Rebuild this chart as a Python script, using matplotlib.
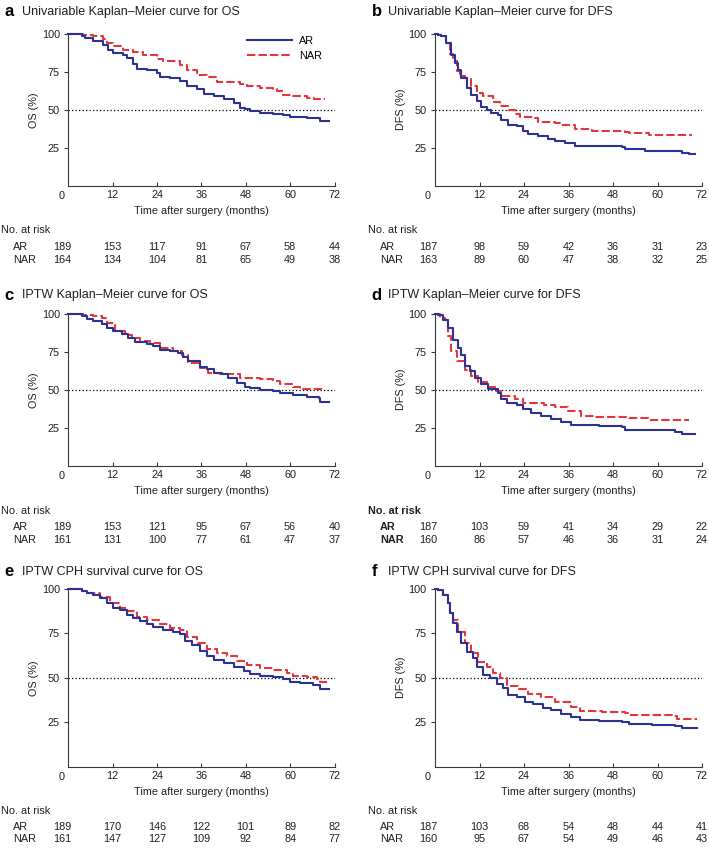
import matplotlib

matplotlib.use("Agg")
import matplotlib.pyplot as plt
from matplotlib import transforms

plt.rcParams["font.family"] = ["Liberation Sans", "DejaVu Sans"]

W, H = 709, 848
BLUE = "#2d3192"
RED = "#e2373f"
TXT = "#231f20"
FS = 7.8

risk_times = [0, 12, 24, 36, 48, 60, 72]

# a: univariable KM, OS
a_ar_t = [0, 3.6, 4.5, 6.8, 9.5, 10.8, 12.2, 14.9, 15.8, 17.6, 18.7, 21.2, 23.9, 24.8, 27.5, 30.2, 32.0,
          34.7, 36.6, 39.3, 42.0, 44.7, 46.5, 47.8, 49.2, 51.9, 55.5, 58.2, 60.0, 64.5, 67.7, 68.1, 70.4]
a_ar_s = [100, 98.5, 97.4, 95.6, 93.0, 89.7, 87.5, 86.4, 84.0, 80.0, 77.0, 76.0, 74.3, 71.5, 71.0, 69.0, 65.6,
          63.4, 60.5, 59.0, 57.2, 54.6, 51.3, 50.2, 49.0, 48.0, 47.4, 46.5, 45.2, 44.7, 44.3, 42.5, 42.5]
a_nar_t = [0, 4.1, 6.8, 9.5, 10.4, 12.2, 14.9, 17.6, 20.3, 23.9, 25.7, 30.2, 32.0, 34.7, 37.5, 40.2, 46.5,
           48.3, 51.9, 55.5, 56.4, 58.2, 60.9, 64.5, 66.5, 69.5]
a_nar_s = [100, 99.5, 98.5, 97.0, 94.0, 92.0, 89.7, 88.2, 86.4, 83.8, 82.0, 79.8, 76.5, 73.2, 71.5, 68.4, 67.0,
           65.6, 64.5, 63.8, 62.3, 60.0, 59.0, 57.9, 56.8, 56.8]
a_risk_ar = [189, 153, 117, 91, 67, 58, 44]
a_risk_nar = [164, 134, 104, 81, 65, 49, 38]

# b: univariable KM, DFS
b_ar_t = [0, 0.8, 1.7, 3.1, 4.4, 5.3, 6.2, 7.1, 8.5, 9.8, 11.2, 12.5, 13.9, 15.2, 17.0, 17.9, 19.7, 22.0,
          23.8, 25.1, 27.8, 30.5, 32.3, 35.0, 37.7, 45.0, 50.4, 51.3, 56.7, 64.8, 66.6, 68.5, 70.2]
b_ar_s = [100, 99.5, 98.5, 94.0, 86.3, 80.8, 76.4, 71.0, 64.3, 60.0, 56.0, 51.5, 50.0, 47.8, 46.7, 43.4, 40.0,
          39.0, 36.1, 33.9, 32.4, 30.6, 29.1, 28.0, 26.4, 25.8, 25.1, 24.2, 23.1, 22.5, 21.4, 21.0, 21.0]
b_nar_t = [0, 0.8, 1.7, 3.1, 4.0, 4.9, 5.8, 6.7, 8.0, 9.8, 11.2, 13.0, 15.7, 17.5, 19.7, 21.5, 22.9, 26.9,
           27.8, 32.3, 34.1, 37.7, 42.3, 51.3, 52.2, 57.6, 69.3]
b_nar_s = [100, 99.5, 98.5, 94.0, 86.8, 82.0, 75.3, 72.0, 71.0, 65.4, 61.0, 58.8, 55.0, 52.2, 50.0, 47.1, 45.0,
           44.5, 41.9, 41.2, 40.1, 37.2, 35.7, 35.0, 34.6, 33.5, 33.5]
b_risk_ar = [187, 98, 59, 42, 36, 31, 23]
b_risk_nar = [163, 89, 60, 47, 38, 32, 25]

# c: IPTW KM, OS
c_ar_t = [0, 3.6, 5.0, 6.8, 9.0, 10.4, 12.2, 14.4, 16.2, 18.1, 21.2, 23.0, 24.8, 27.5, 29.8, 31.1, 32.5,
          35.6, 37.5, 39.3, 41.5, 43.3, 45.6, 47.8, 49.2, 51.9, 55.5, 57.3, 60.9, 64.5, 67.7, 68.1, 70.4]
c_ar_s = [100, 98.5, 97.0, 95.2, 93.4, 90.8, 88.6, 86.8, 84.2, 81.6, 80.3, 78.7, 76.5, 75.9, 74.3, 71.5, 68.9,
          64.9, 63.4, 61.2, 60.1, 57.9, 54.6, 51.8, 50.9, 49.6, 49.1, 48.0, 46.5, 45.2, 44.7, 41.8, 41.8]
c_nar_t = [0, 4.1, 6.8, 9.0, 10.4, 12.6, 15.3, 17.1, 19.4, 22.1, 24.8, 28.4, 30.7, 32.5, 35.6, 37.9, 41.1,
           44.7, 46.5, 51.9, 55.5, 57.3, 60.9, 62.7, 69.5]
c_nar_s = [100, 99.5, 98.5, 97.4, 94.0, 88.6, 86.4, 84.2, 82.5, 80.9, 77.6, 75.9, 73.2, 67.8, 64.5, 61.2, 60.5,
           60.1, 57.9, 56.8, 56.1, 53.9, 51.8, 50.2, 50.2]
c_risk_ar = [189, 153, 121, 95, 67, 56, 40]
c_risk_nar = [161, 131, 100, 77, 61, 47, 37]

# d: IPTW KM, DFS
d_ar_t = [0, 0.8, 2.2, 3.5, 4.9, 6.2, 7.1, 8.0, 9.4, 10.7, 12.5, 14.3, 17.0, 17.9, 19.3, 22.0, 23.8, 26.0,
          28.7, 31.4, 34.1, 36.8, 44.1, 50.4, 51.3, 64.8, 66.6, 70.2]
d_ar_s = [100, 99.5, 96.3, 90.8, 83.1, 77.6, 73.2, 65.6, 62.3, 57.9, 53.5, 50.2, 48.0, 43.6, 41.4, 39.9, 37.0,
          34.8, 32.6, 30.4, 28.9, 26.7, 26.0, 25.4, 23.2, 22.3, 21.0, 21.0]
d_nar_t = [0, 1.3, 2.6, 3.5, 4.4, 5.8, 8.0, 9.8, 11.6, 13.9, 16.1, 17.9, 21.6, 23.8, 29.4, 32.3, 35.9, 39.5,
           43.2, 52.2, 57.6, 68.4]
d_nar_s = [100, 97.4, 96.3, 85.2, 75.3, 68.7, 63.2, 58.8, 55.0, 51.5, 48.9, 45.6, 44.0, 41.2, 40.1, 38.3, 35.7,
           33.0, 31.9, 31.3, 30.0, 30.0]
d_risk_ar = [187, 103, 59, 41, 34, 29, 22]
d_risk_nar = [160, 86, 57, 46, 36, 31, 24]

# e: IPTW CPH, OS
e_ar_t = [0, 3.6, 5.0, 6.8, 8.6, 10.4, 12.2, 14.0, 15.8, 17.6, 19.4, 21.2, 23.0, 25.7, 28.4, 30.2, 31.6,
          33.4, 35.6, 37.5, 39.3, 42.0, 44.7, 47.4, 49.2, 51.9, 55.5, 58.2, 60.0, 62.7, 66.3, 68.1, 70.4]
e_ar_s = [100, 98.8, 97.7, 96.8, 94.9, 92.1, 89.2, 87.9, 85.5, 83.6, 81.7, 80.4, 78.5, 77.0, 75.5, 74.7, 70.9,
          68.5, 65.3, 62.3, 60.0, 58.5, 56.2, 54.0, 52.1, 50.9, 50.2, 49.1, 47.7, 46.8, 45.8, 43.5, 43.5]
e_nar_t = [0, 3.6, 5.0, 8.6, 11.3, 14.0, 15.8, 18.5, 21.2, 24.8, 27.5, 30.2, 32.0, 34.7, 37.5, 40.2, 42.9,
           45.6, 48.3, 51.9, 55.5, 59.1, 60.9, 64.5, 67.2, 68.1, 70.4]
e_nar_s = [100, 98.8, 97.7, 95.5, 92.1, 89.2, 87.4, 84.5, 82.3, 80.4, 77.9, 77.0, 73.2, 69.4, 66.0, 63.8, 62.3,
           59.6, 57.2, 55.3, 54.3, 52.8, 50.9, 50.2, 49.1, 47.5, 47.5]
e_risk_ar = [189, 170, 146, 122, 101, 89, 82]
e_risk_nar = [161, 147, 127, 109, 92, 84, 77]

# f: IPTW CPH, DFS
f_ar_t = [0, 0.8, 2.2, 3.5, 4.0, 4.9, 5.8, 7.1, 8.5, 10.3, 11.2, 13.0, 14.8, 16.6, 18.4, 19.7, 22.0, 24.2,
          26.5, 29.2, 31.4, 34.1, 36.8, 39.1, 44.1, 50.4, 52.2, 58.5, 64.8, 66.6, 70.6]
f_ar_s = [100, 99.5, 96.8, 92.1, 86.4, 80.8, 76.0, 69.4, 64.7, 60.9, 56.2, 51.5, 49.6, 46.4, 44.0, 40.2, 38.9,
          36.6, 35.1, 33.2, 31.7, 29.8, 27.9, 26.4, 25.7, 25.1, 24.2, 23.2, 22.6, 21.9, 21.9]
f_nar_t = [0, 0.8, 2.2, 3.5, 4.0, 4.9, 6.2, 8.0, 9.8, 11.6, 13.9, 15.7, 17.5, 19.3, 22.4, 25.1, 28.7, 32.3,
           36.8, 39.1, 45.0, 51.3, 52.2, 63.9, 65.2, 70.6]
f_nar_s = [100, 99.5, 96.8, 92.1, 86.4, 82.6, 76.0, 69.4, 63.8, 59.1, 56.2, 52.8, 49.6, 45.3, 43.4, 41.1, 38.9,
           36.4, 33.6, 31.3, 30.8, 30.2, 28.9, 28.3, 27.0, 27.0]
f_risk_ar = [187, 103, 68, 54, 48, 44, 41]
f_risk_nar = [160, 95, 67, 54, 49, 46, 43]

titles = [
    ("a", "Univariable Kaplan\u2013Meier curve for OS", "OS (%)"),
    ("b", "Univariable Kaplan\u2013Meier curve for DFS", "DFS (%)"),
    ("c", "IPTW Kaplan\u2013Meier curve for OS", "OS (%)"),
    ("d", "IPTW Kaplan\u2013Meier curve for DFS", "DFS (%)"),
    ("e", "IPTW CPH survival curve for OS", "OS (%)"),
    ("f", "IPTW CPH survival curve for DFS", "DFS (%)"),
]
curves = [
    (a_ar_t, a_ar_s, a_nar_t, a_nar_s, a_risk_ar, a_risk_nar),
    (b_ar_t, b_ar_s, b_nar_t, b_nar_s, b_risk_ar, b_risk_nar),
    (c_ar_t, c_ar_s, c_nar_t, c_nar_s, c_risk_ar, c_risk_nar),
    (d_ar_t, d_ar_s, d_nar_t, d_nar_s, d_risk_ar, d_risk_nar),
    (e_ar_t, e_ar_s, e_nar_t, e_nar_s, e_risk_ar, e_risk_nar),
    (f_ar_t, f_ar_s, f_nar_t, f_nar_s, f_risk_ar, f_risk_nar),
]

# pixel layout: axes top/bottom per row, left/right per column
rows = [(34, 185.5), (314, 465.5), (589, 766.5)]
cols = [(68.3, 334.5), (435, 702)]
title_y = [12, 295, 572]
risk_y = [(230, 246.5, 260), (511.5, 526.5, 540), (810.5, 826.5, 839.5)]

fig = plt.figure(figsize=(W / 100, H / 100), dpi=100)

for i, ((letter, title, ylab), (art, ars, nart, nars, rar, rnar)) in enumerate(zip(titles, curves)):
    r, c = divmod(i, 2)
    top, bot = rows[r]
    left, right = cols[c]
    ax = fig.add_axes([left / W, 1 - bot / H, (right - left) / W, (bot - top) / H])

    ax.axhline(50, color="black", ls=(0, (1, 1.8)), lw=0.9, zorder=1)
    ax.plot(nart, nars, drawstyle="steps-post", color=RED, lw=1.5, ls=(0, (4, 1.5)),
            label="NAR", clip_on=False, zorder=2)
    ax.plot(art, ars, drawstyle="steps-post", color=BLUE, lw=1.5, label="AR",
            clip_on=False, zorder=3)

    ax.set_xlim(0, 72)
    ax.set_ylim(0, 100)
    ax.set_xticks(risk_times[1:])
    ax.set_yticks([25, 50, 75, 100])
    for s in ("top", "right"):
        ax.spines[s].set_visible(False)
    for s in ("left", "bottom"):
        ax.spines[s].set_color("#3a3a3a")
        ax.spines[s].set_linewidth(0.8)
    ax.tick_params(axis="x", direction="in", length=3, width=0.8, pad=3.5,
                   labelsize=FS, colors="#3a3a3a", labelcolor=TXT)
    ax.tick_params(axis="y", direction="out", length=3, width=0.8, pad=3,
                   labelsize=FS, colors="#3a3a3a", labelcolor=TXT)
    ax.annotate("0", xy=(0, 0), xytext=(-5, -7.6), textcoords="offset points",
                ha="center", va="center", fontsize=FS, color=TXT)

    h_px = bot - top
    ax.set_xlabel("Time after surgery (months)", fontsize=FS, color=TXT)
    ax.xaxis.label.set_va("center")
    ax.xaxis.set_label_coords(0.5, -(25.5 / h_px))
    ax.set_ylabel(ylab, fontsize=FS, color=TXT)
    ax.yaxis.label.set_va("center")
    ax.yaxis.set_label_coords(-(34 / (right - left)), 0.5)

    if i == 0:
        handles, labels = ax.get_legend_handles_labels()
        ax.legend(handles[::-1], labels[::-1], loc="upper left",
                  bbox_to_anchor=(0.672, 0.985), frameon=False, fontsize=FS,
                  handlelength=4.1, handletextpad=0.7, labelspacing=0.4,
                  borderpad=0, borderaxespad=0)

    # panel title
    fig.text((left - 63.5) / W, 1 - title_y[r] / H, letter, fontsize=12, fontweight="bold",
             ha="left", va="center", color="black")
    fig.text((left - 46.5) / W, 1 - title_y[r] / H, title, fontsize=9,
             ha="left", va="center", color=TXT)

    # number-at-risk table
    weight = "bold" if letter == "d" else "normal"
    y0, y1, y2 = risk_y[r]
    fig.text((left - 67.5) / W, 1 - y0 / H, "No. at risk", fontsize=FS, fontweight=weight,
             ha="left", va="center", color=TXT)
    fig.text((left - 55) / W, 1 - y1 / H, "AR", fontsize=FS, fontweight=weight,
             ha="left", va="center", color=TXT)
    fig.text((left - 55) / W, 1 - y2 / H, "NAR", fontsize=FS, fontweight=weight,
             ha="left", va="center", color=TXT)
    trans = transforms.blended_transform_factory(ax.transData, fig.transFigure)
    for t, n1, n2 in zip(risk_times, rar, rnar):
        xt = -1.7 if t == 0 else t
        ax.text(xt, 1 - y1 / H, str(n1), transform=trans, fontsize=FS,
                ha="center", va="center", color=TXT, clip_on=False)
        ax.text(xt, 1 - y2 / H, str(n2), transform=trans, fontsize=FS,
                ha="center", va="center", color=TXT, clip_on=False)

fig.savefig("out.png", dpi=100)
plt.close(fig)
